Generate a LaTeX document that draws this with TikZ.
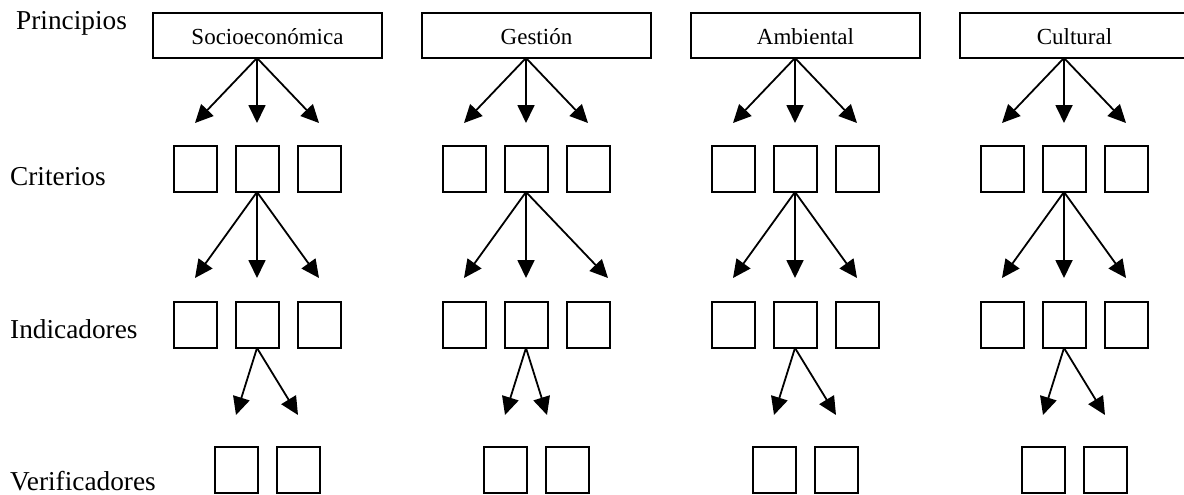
\documentclass[tikz,border=0pt]{standalone}
\usepackage{fontspec}
\setmainfont{Liberation Serif}
\usetikzlibrary{positioning,arrows.meta}
\tikzset{
  caja/.style={draw, line width=2pt, minimum width=43pt, minimum height=46pt, inner sep=0pt, outer sep=0pt},
  principio/.style={draw, line width=2pt, minimum width=229pt, inner sep=0pt, outer sep=0pt, text height=32pt, text depth=13pt, font=\fontsize{23}{26}\selectfont},
  nivel/.style={anchor=base west, inner sep=0pt, font=\fontsize{27.3}{30}\selectfont},
  flecha/.style={-{Triangle[length=18pt,width=17pt]}, line width=1.8pt}
}
\begin{document}
\begin{tikzpicture}[x=1pt, y=-1pt]
\useasboundingbox (0,0) rectangle (1184,495);
\clip (0,0) rectangle (1184,495);
\node (pr) [nivel] at (16,30) {Principios};
\node (cr) [nivel] at (10,185) {Criterios};
\node (in) [nivel] at (10,338) {Indicadores};
\node (ve) [nivel] at (10,490) {Verificadores};
\foreach \t/\dc/\dv [count=\i] in {Socioeconómica/0/0, Gestión/20/-20, Ambiental/0/0, Cultural/0/0} {
  \node (c\i2) [caja] at ({257+269*(\i-1)},169) {};
  \node (c\i1) [caja, left=19pt of c\i2] {};
  \node (c\i3) [caja, right=19pt of c\i2] {};
  \node (p\i) [principio, above=88pt of c\i2, xshift=10.5pt] {\t};
  \node (i\i2) [caja, below=110pt of c\i2] {};
  \node (i\i1) [caja, left=19pt of i\i2] {};
  \node (i\i3) [caja, right=19pt of i\i2] {};
  \node (v\i1) [caja, below=99pt of i\i2, xshift=-21pt] {};
  \node (v\i2) [caja, right=19pt of v\i1] {};
  \draw [flecha] (p\i.south -| c\i2.north) -- ([yshift=23pt]c\i1.north);
  \draw [flecha] (p\i.south -| c\i2.north) -- ([yshift=23pt]c\i2.north);
  \draw [flecha] (p\i.south -| c\i2.north) -- ([yshift=23pt]c\i3.north);
  \draw [flecha] (c\i2.south) -- ([yshift=24pt]i\i1.north);
  \draw [flecha] (c\i2.south) -- ([yshift=24pt]i\i2.north);
  \draw [flecha] (c\i2.south) -- ([yshift=24pt, xshift=\dc]i\i3.north);
  \draw [flecha] (i\i2.south) -- ([yshift=32pt]v\i1.north);
  \draw [flecha] (i\i2.south) -- ([yshift=32pt, xshift=\dv]v\i2.north);
}
\end{tikzpicture}
\end{document}
